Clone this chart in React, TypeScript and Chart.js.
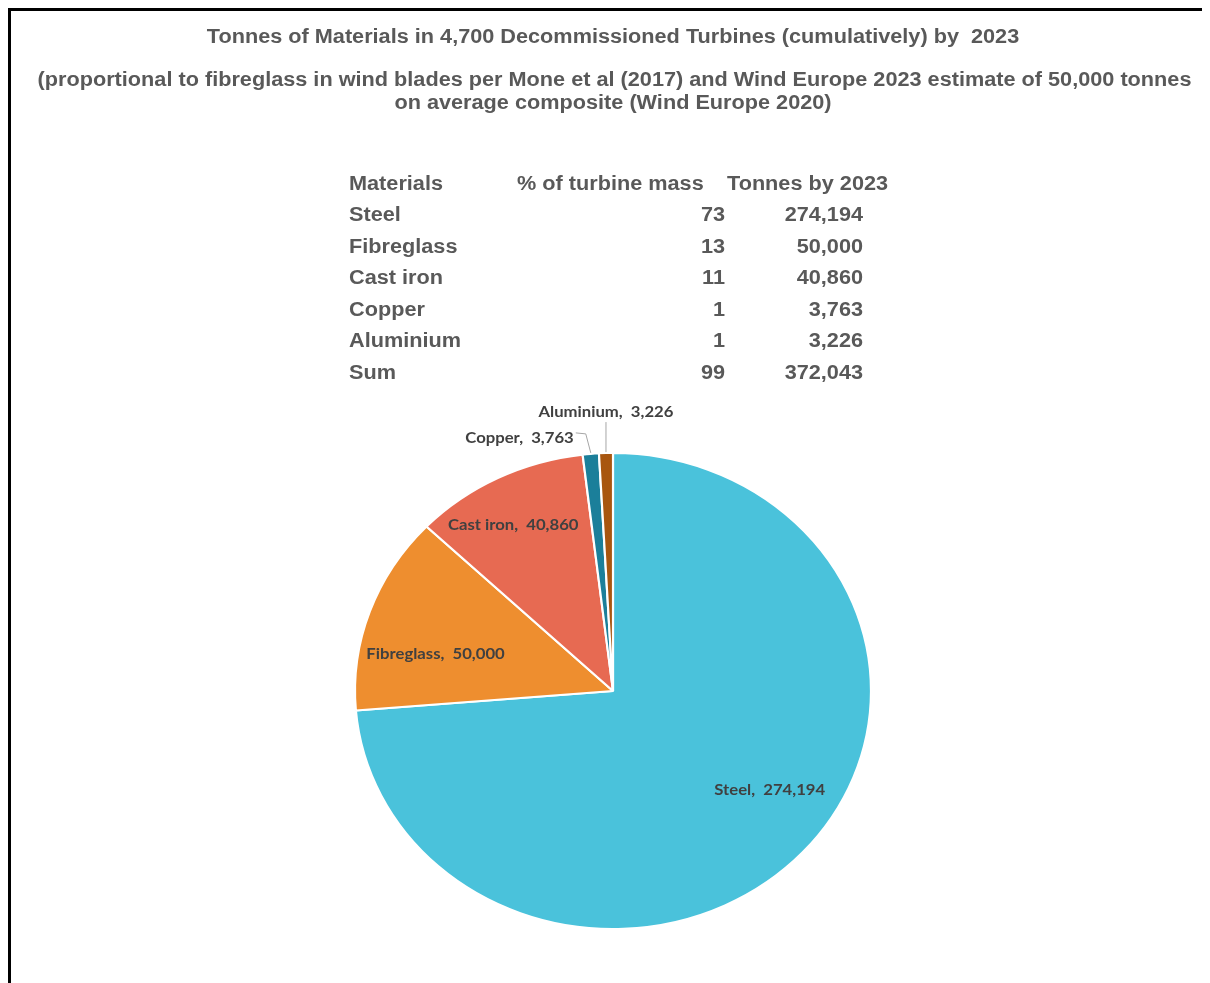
import React, { useEffect, useRef } from "react";
import { Chart, registerables } from "chart.js";

Chart.register(...registerables);

// ---------- data ----------
const materials = ["Steel", "Fibreglass", "Cast iron", "Copper", "Aluminium"];
const percentOfMass = [73, 13, 11, 1, 1];
const tonnesBy2023 = [274194, 50000, 40860, 3763, 3226];
const sliceColors = ["#4AC2DB", "#EE8E2F", "#E76A52", "#1B7F9A", "#A8560F"];

const titleLines = [
  "Tonnes of Materials in 4,700 Decommissioned Turbines (cumulatively) by  2023",
  "(proportional to fibreglass in wind blades per Mone et al (2017) and Wind Europe 2023 estimate of 50,000 tonnes",
  "on average composite (Wind Europe 2020)",
];
const tableHeaders = ["Materials", "% of turbine mass", "Tonnes by 2023"];
const sumLabel = "Sum";

// ---------- layout / style ----------
const W = 1199;
const H = 964;
const SX = 1.084; // horizontal stretch of the original picture
const GREY = "#595959";
const LABEL_GREY = "#404040";
const TITLE_FONT = "bold 20px 'Liberation Sans', Arial, sans-serif";
const TABLE_FONT = "bold 20px 'Liberation Sans', Arial, sans-serif";
const LABEL_FONT = "bold 15.4px Lato, 'Open Sans', sans-serif";

// label placement: [radial factor, angle offset in degrees, outside?]
const labelPlacement: [number, number, boolean][] = [
  [0.736, -8.3, false],
  [0.705, -6.8, false],
  [0.797, -2.5, false],
  [1.0, 0, true],
  [1.0, 0, true],
];

const fmt = (n: number) => n.toLocaleString("en-US");

function stretchedText(
  ctx: CanvasRenderingContext2D,
  text: string,
  x: number,
  y: number,
  align: CanvasTextAlign
) {
  ctx.save();
  ctx.translate(x, y);
  ctx.scale(SX, 1);
  ctx.textAlign = align;
  ctx.textBaseline = "middle";
  ctx.fillText(text, 0, 0);
  ctx.restore();
}

const stretchPlugin = {
  id: "stretchPie",
  beforeDatasetsDraw(chart: any) {
    const arc = chart.getDatasetMeta(0).data[0];
    const ctx = chart.ctx;
    ctx.save();
    ctx.translate(arc.x, 0);
    ctx.scale(SX, 1);
    ctx.translate(-arc.x, 0);
  },
  afterDatasetsDraw(chart: any) {
    chart.ctx.restore();
  },
};

const textPlugin = {
  id: "texts",
  afterDraw(chart: any) {
    const ctx: CanvasRenderingContext2D = chart.ctx;
    const arcs = chart.getDatasetMeta(0).data;
    const cx = arcs[0].x;
    const cy = arcs[0].y;

    // titles
    ctx.fillStyle = GREY;
    ctx.font = TITLE_FONT;
    const titleY = [26, 69, 92];
    titleLines.forEach((t, i) => stretchedText(ctx, t, cx + (i === 1 ? 1.5 : 0), titleY[i], "center"));

    // table
    ctx.font = TABLE_FONT;
    const colName = 338;
    const colPctHeader = 506;
    const colTonHeader = 716;
    const colPctRight = 714;
    const colTonRight = 852;
    const rowY0 = 173;
    const rowStep = 31.5;
    stretchedText(ctx, tableHeaders[0], colName, rowY0, "left");
    stretchedText(ctx, tableHeaders[1], colPctHeader, rowY0, "left");
    stretchedText(ctx, tableHeaders[2], colTonHeader, rowY0, "left");
    materials.forEach((m, i) => {
      const y = rowY0 + rowStep * (i + 1);
      stretchedText(ctx, m, colName, y, "left");
      stretchedText(ctx, String(percentOfMass[i]), colPctRight, y, "right");
      stretchedText(ctx, fmt(tonnesBy2023[i]), colTonRight, y, "right");
    });
    const ySum = rowY0 + rowStep * (materials.length + 1);
    stretchedText(ctx, sumLabel, colName, ySum, "left");
    stretchedText(ctx, String(percentOfMass.reduce((a, b) => a + b, 0)), colPctRight, ySum, "right");
    stretchedText(ctx, fmt(tonnesBy2023.reduce((a, b) => a + b, 0)), colTonRight, ySum, "right");

    // data labels
    ctx.font = LABEL_FONT;
    arcs.forEach((arc: any, i: number) => {
      const r = arc.outerRadius;
      const [f, dDeg, outside] = labelPlacement[i];
      const mid = (arc.startAngle + arc.endAngle) / 2 + (dDeg * Math.PI) / 180;
      const px = cx + Math.cos(mid) * r * f * SX;
      const py = cy + Math.sin(mid) * r * f;
      const text = `${materials[i]},  ${fmt(tonnesBy2023[i])}`;
      ctx.fillStyle = LABEL_GREY;
      if (!outside) {
        stretchedText(ctx, text, px, py, "center");
        return;
      }
      ctx.strokeStyle = "#A6A6A6";
      ctx.lineWidth = 1;
      ctx.beginPath();
      if (i === materials.length - 1) {
        // vertical leader above the slice
        ctx.moveTo(px, py - 1);
        ctx.lineTo(px, py - 31);
        ctx.stroke();
        stretchedText(ctx, text, px, py - 41, "center");
      } else {
        // bent leader to the left
        ctx.moveTo(px, py - 1);
        ctx.lineTo(px - 5, py - 20);
        ctx.lineTo(px - 15, py - 21);
        ctx.stroke();
        stretchedText(ctx, text, px - 17, py - 16, "right");
      }
    });
  },
};

export default function App() {
  const ref = useRef<HTMLCanvasElement | null>(null);

  useEffect(() => {
    const html = document.documentElement;
    const prevOverflow = html.style.overflow;
    html.style.overflow = "hidden";
    document.body.style.overflow = "hidden";
    if (!ref.current) return;
    const chart = new Chart(ref.current, {
      type: "pie",
      data: {
        labels: materials,
        datasets: [
          {
            data: tonnesBy2023,
            backgroundColor: sliceColors,
            borderColor: "#FFFFFF",
            borderWidth: 2,
            clip: false as any,
          },
        ],
      },
      options: {
        animation: false,
        responsive: false,
        layout: { padding: { top: 441, bottom: 45, left: 362.5, right: 357.5 } },
        plugins: {
          legend: { display: false },
          tooltip: { enabled: false },
          title: { display: false },
        },
      },
      plugins: [stretchPlugin, textPlugin],
    });
    return () => {
      chart.destroy();
      html.style.overflow = prevOverflow;
    };
  }, []);

  return (
    <div
      style={{
        width: 1240,
        height: 1000,
        boxSizing: "border-box",
        borderTop: "3px solid #000",
        borderLeft: "3px solid #000",
        background: "#fff",
        overflow: "hidden",
      }}
    >
      <canvas ref={ref} width={W} height={H} style={{ display: "block", width: W, height: H }} />
    </div>
  );
}
